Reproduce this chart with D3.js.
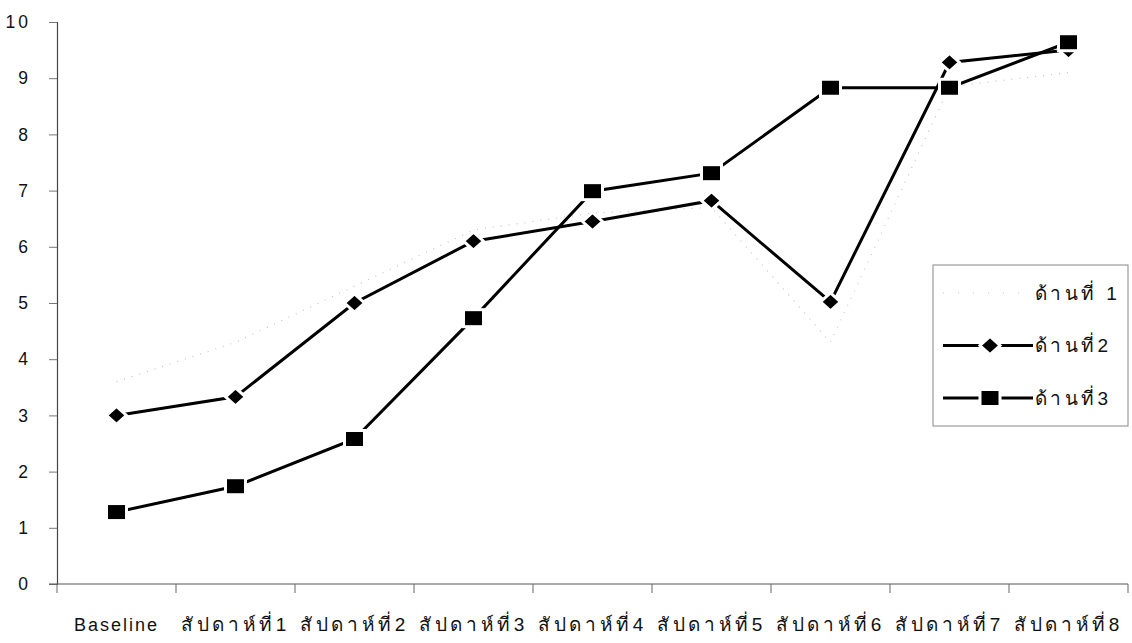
<!DOCTYPE html>
<html>
<head>
<meta charset="utf-8">
<script src="https://cdn.jsdelivr.net/npm/d3@7"></script>
<style>
  body { margin: 0; background: #fff; }
  text { font-family: "Liberation Sans", Arial, "Noto Sans", sans-serif; fill: #111; }
</style>
</head>
<body>
<script>
// data
var categories = ["Baseline", "สัปดาห์ที่1", "สัปดาห์ที่2", "สัปดาห์ที่3", "สัปดาห์ที่4",
                  "สัปดาห์ที่5", "สัปดาห์ที่6", "สัปดาห์ที่7", "สัปดาห์ที่8"];
var side1 = [3.6, 4.3, 5.3, 6.3, 6.6, 6.7, 4.3, 8.85, 9.1];
var side2 = [3.0, 3.33, 5.0, 6.1, 6.45, 6.82, 5.02, 9.28, 9.5];
var side3 = [1.28, 1.74, 2.58, 4.73, 6.99, 7.31, 8.83, 8.83, 9.64];
var yTicks = [0, 1, 2, 3, 4, 5, 6, 7, 8, 9, 10];
var seriesNames = ["ด้านที่ 1", "ด้านที่2", "ด้านที่3"];

var width = 1132, height = 643;

var svg = d3.select("body").append("svg")
    .attr("width", width)
    .attr("height", height);

var x = d3.scaleBand()
    .domain(categories)
    .range([57, 1128])
    .padding(0);

var y = d3.scaleLinear()
    .domain([0, 10])
    .range([584, 22]);

function cx(c) { return x(c) + x.bandwidth() / 2; }
// the scan uses wide, larger type for thai text
function isThai(s) { return /[\u0E00-\u0E7F]/.test(s); }
function spacing(s) { return isThai(s) ? 3.6 : 2; }
function fsize(s) { return isThai(s) ? 19 : 18; }

// y axis
var yAxis = svg.append("g")
    .attr("transform", "translate(57,0)")
    .call(d3.axisLeft(y).tickValues(yTicks).tickSize(8).tickPadding(21));
yAxis.select(".domain").attr("stroke", "#444").attr("stroke-width", 1.2);
yAxis.selectAll(".tick line").attr("stroke", "#777");
yAxis.selectAll(".tick text")
    .attr("font-size", 17.5)
    .attr("text-anchor", "end")
    .attr("letter-spacing", function(d) { return d === 10 ? 3 : 0; })
    .attr("dx", function(d) { return d === 10 ? 3 : 0; });

// x axis: line, ticks on band edges, labels in band centres
var xAxis = svg.append("g").attr("transform", "translate(0," + y(0) + ")");
xAxis.append("line")
    .attr("x1", 49).attr("x2", 1128)
    .attr("stroke", "#555").attr("stroke-width", 1.2);
xAxis.selectAll(".xt")
    .data(categories.concat(["_end"]))
    .enter().append("line")
    .attr("class", "xt")
    .attr("x1", function(d, i) { return x.range()[0] + i * x.bandwidth(); })
    .attr("x2", function(d, i) { return x.range()[0] + i * x.bandwidth(); })
    .attr("y1", 0).attr("y2", 9)
    .attr("stroke", "#666");
xAxis.selectAll(".xl")
    .data(categories)
    .enter().append("text")
    .attr("class", "xl")
    .attr("x", function(d) { return cx(d); })
    .attr("y", 47)
    .attr("text-anchor", "middle")
    .attr("font-size", fsize)
    .attr("letter-spacing", spacing)
    .text(function(d) { return d; });

var line = d3.line()
    .x(function(d, i) { return cx(categories[i]); })
    .y(function(d) { return y(d); });

// side 1: faint dotted line, no markers
svg.append("path")
    .datum(side1)
    .attr("d", line)
    .attr("fill", "none")
    .attr("stroke", "#c4c4c4")
    .attr("stroke-width", 1.2)
    .attr("stroke-dasharray", "1,7");

// side 2: black line with diamonds
svg.append("path")
    .datum(side2)
    .attr("d", line)
    .attr("fill", "none")
    .attr("stroke", "#000")
    .attr("stroke-width", 3);

// side 3: black line with squares
svg.append("path")
    .datum(side3)
    .attr("d", line)
    .attr("fill", "none")
    .attr("stroke", "#000")
    .attr("stroke-width", 3);

function diamond(sel) {
  sel.attr("d", "M0,-9 L10,0 L0,9 L-10,0 Z")
    .attr("fill", "#000")
    .attr("stroke", "#fff")
    .attr("stroke-width", 3);
}
function square(sel) {
  sel.attr("x", -10).attr("y", -8.5).attr("width", 20).attr("height", 17)
    .attr("fill", "#000")
    .attr("stroke", "#fff")
    .attr("stroke-width", 3);
}

svg.selectAll(".m2")
    .data(side2)
    .enter().append("path")
    .attr("class", "m2")
    .attr("transform", function(d, i) { return "translate(" + cx(categories[i]) + "," + y(d) + ")"; })
    .call(diamond);

svg.selectAll(".m3")
    .data(side3)
    .enter().append("rect")
    .attr("class", "m3")
    .attr("transform", function(d, i) { return "translate(" + cx(categories[i]) + "," + y(d) + ")"; })
    .call(square);

// legend
var legend = svg.append("g").attr("transform", "translate(933,265)");
legend.append("rect")
    .attr("width", 195).attr("height", 161)
    .attr("fill", "#fff")
    .attr("stroke", "#888").attr("stroke-width", 1);

var rows = legend.selectAll(".row")
    .data(seriesNames)
    .enter().append("g")
    .attr("class", "row")
    .attr("transform", function(d, i) { return "translate(0," + (28 + i * 52.5) + ")"; });

rows.append("line")
    .attr("x1", 10).attr("x2", 100)
    .attr("stroke", function(d, i) { return i === 0 ? "#c4c4c4" : "#000"; })
    .attr("stroke-width", function(d, i) { return i === 0 ? 1.2 : 3; })
    .attr("stroke-dasharray", function(d, i) { return i === 0 ? "1,14" : null; });

rows.filter(function(d, i) { return i === 1; }).append("path")
    .attr("transform", "translate(57,0)")
    .call(diamond);
rows.filter(function(d, i) { return i === 2; }).append("rect")
    .attr("transform", "translate(57,0)")
    .call(square);

rows.append("text")
    .attr("x", 102)
    .attr("dy", "0.35em")
    .attr("font-size", 19)
    .attr("letter-spacing", 3.4)
    .text(function(d) { return d; });
</script>
</body>
</html>
